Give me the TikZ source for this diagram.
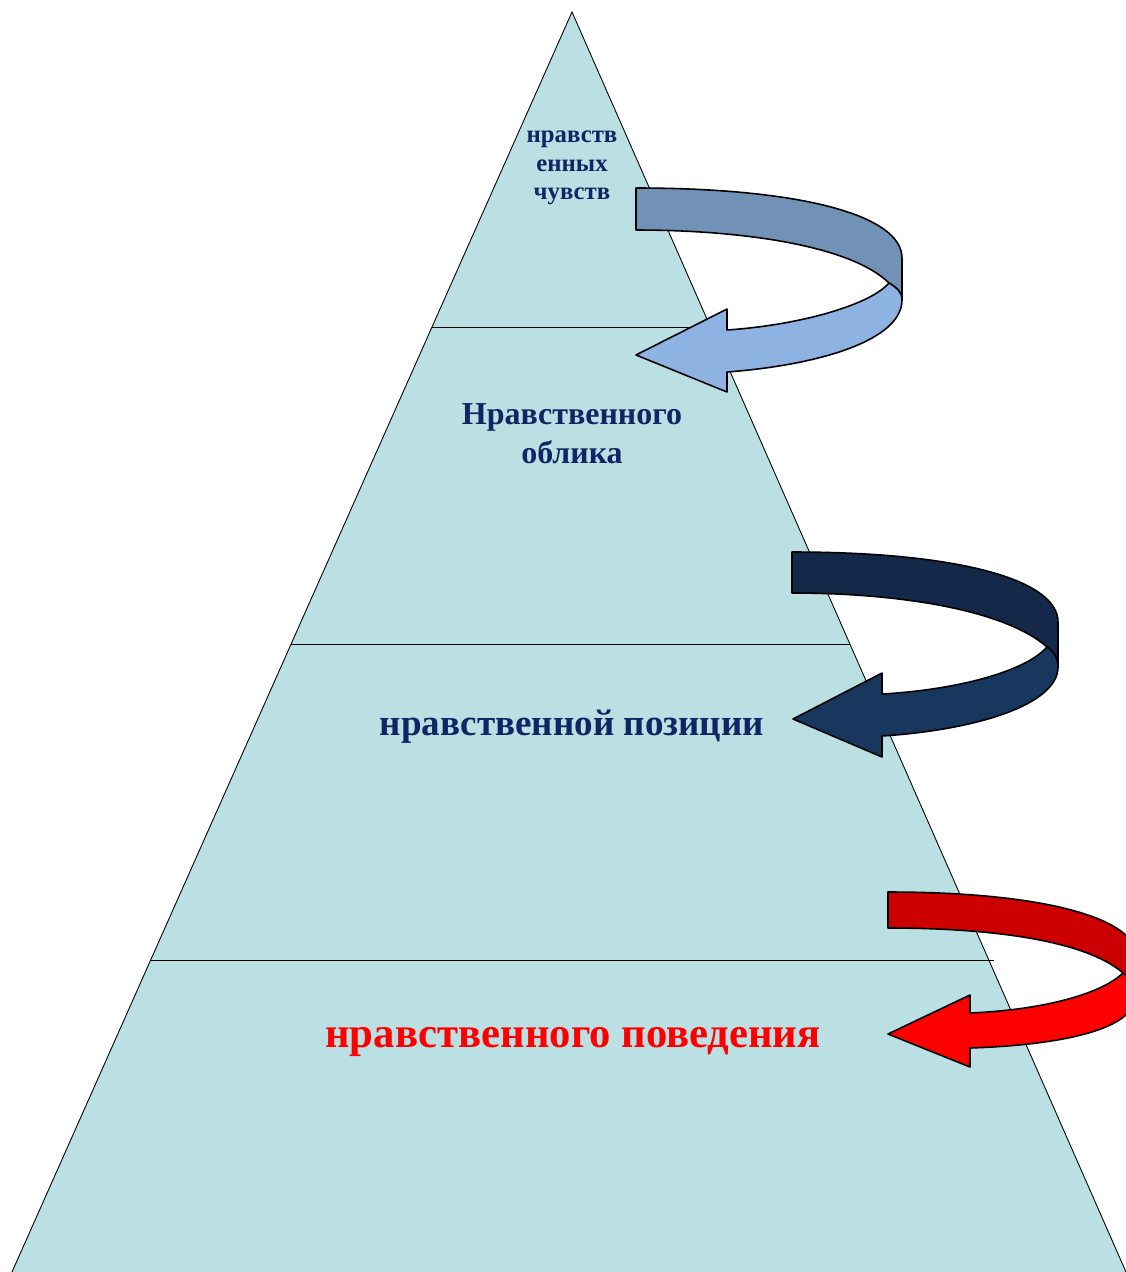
\documentclass[tikz,border=0pt]{standalone}
\usepackage{fontspec}
\setmainfont{Liberation Serif}
\definecolor{pyrfill}{RGB}{187,224,227}
\definecolor{txtnavy}{RGB}{16,37,99}
\definecolor{aoneback}{RGB}{113,145,182}
\definecolor{aonefront}{RGB}{142,179,226}
\definecolor{atwoback}{RGB}{20,41,74}
\definecolor{atwofront}{RGB}{23,55,94}
\definecolor{athreeback}{RGB}{204,0,0}
\definecolor{athreefront}{RGB}{255,0,0}
\tikzset{
  level/.style={draw=black, line width=0.5pt},
  band/.style={draw=black, line width=0.9pt, line join=round},
  lbl/.style={align=center, font=\bfseries, text=txtnavy, inner sep=0pt}
}
\begin{document}
\begin{tikzpicture}[x=0.02cm, y=-0.02cm]
  \useasboundingbox (0,0) rectangle (1126,1272);
  \clip (0,0) rectangle (1126,1272);

  % Pyramid
  \fill[pyrfill] (572,12) -- (1126,1272) -- (12,1272) -- cycle;
  \draw[level] (12,1272) -- (572,12) -- (1126,1272);

  % Level borders
  \draw[level] (432,327) -- (710,327);
  \draw[level] (291,644) -- (850,644);
  \draw[level] (150,960) -- (994,960);

  % Labels
  \node[lbl, font=\bfseries\fontsize{14.1}{16.4}\selectfont] (feel) at (572,168) {нравств\\енных\\чувств};
  \node[lbl, font=\bfseries\fontsize{18.2}{22}\selectfont] (look) at (572,434) {Нравственного\\облика};
  \node[lbl, font=\bfseries\fontsize{21.1}{25}\selectfont] (pos) at (572,727) {нравственной позиции};
  \node[lbl, font=\bfseries\fontsize{24.3}{28}\selectfont, text=athreefront] (act) at (573,1042) {нравственного поведения};

  % Arrow 1 (top)
  \filldraw[band, fill=aoneback] (636,188) .. controls (800,188) and (902,215) .. (902,258)
    -- (902,300) .. controls (902,292) and (897,288) .. (889,283)
    .. controls (850,245) and (740,230) .. (636,230) -- cycle;
  \filldraw[band, fill=aonefront] (889,283) .. controls (897,288) and (902,292) .. (902,300)
    .. controls (902,340) and (820,365) .. (727,372) -- (727,392) -- (636,355) -- (727,309)
    -- (727,330) .. controls (800,325) and (870,305) .. (889,283) -- cycle;

  % Arrow 2 (middle)
  \filldraw[band, fill=atwoback] (792,552) .. controls (960,552) and (1058,580) .. (1058,622)
    -- (1058,667) .. controls (1058,658) and (1054,652) .. (1047,647)
    .. controls (1005,610) and (900,593) .. (792,593) -- cycle;
  \filldraw[band, fill=atwofront] (1047,647) .. controls (1054,652) and (1058,658) .. (1058,667)
    .. controls (1058,705) and (975,730) .. (882,736) -- (882,757) -- (793,719) -- (882,673)
    -- (882,694) .. controls (955,690) and (1025,672) .. (1047,647) -- cycle;

  % Arrow 3 (bottom)
  \filldraw[band, fill=athreeback] (888,892) .. controls (1050,892) and (1136,920) .. (1136,955)
    -- (1136,995) .. controls (1136,985) and (1130,978) .. (1123,973)
    .. controls (1085,940) and (990,928) .. (888,928) -- cycle;
  \filldraw[band, fill=athreefront] (1123,973) .. controls (1130,978) and (1136,985) .. (1136,995)
    .. controls (1136,1030) and (1060,1045) .. (970,1048) -- (970,1067) -- (888,1034) -- (970,995)
    -- (970,1013) .. controls (1040,1010) and (1100,995) .. (1123,973) -- cycle;
\end{tikzpicture}
\end{document}
